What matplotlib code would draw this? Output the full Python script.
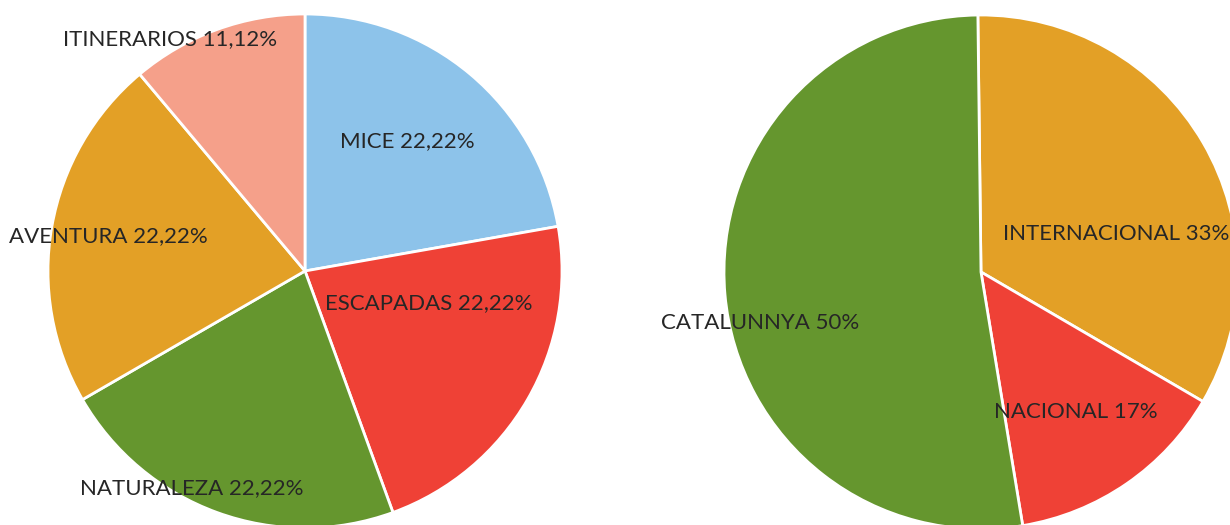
import matplotlib.pyplot as plt

# left pie: tipo de viaje
tipos = ["MICE", "ESCAPADAS", "NATURALEZA", "AVENTURA", "ITINERARIOS"]
tipos_pct = [22.22, 22.22, 22.22, 22.22, 11.12]
tipos_txt = ["22,22%", "22,22%", "22,22%", "22,22%", "11,12%"]
tipos_col = ["#8DC3EA", "#EF4136", "#65962E", "#E3A026", "#F5A08A"]

# right pie: origen (angles as drawn in the picture)
origen = ["INTERNACIONAL", "NACIONAL", "CATALUNNYA"]
origen_val = [33.6, 14.0, 52.4]
origen_txt = ["33%", "17%", "50%"]
origen_col = ["#E3A026", "#EF4136", "#65962E"]

# label anchor points (x center, baseline y from top), pixel coords
tipos_pos = [(407, 147), (429, 309), (192, 494), (108, 242), (170, 45)]
origen_pos = [(1116, 240), (1076, 418), (760, 329)]

H = 525
fig = plt.figure(figsize=(12.3, 5.25), dpi=100)
ax = fig.add_axes([0, 0, 1, 1])

ax.pie(tipos_pct, colors=tipos_col, startangle=90, counterclock=False,
       center=(305, H - 271), radius=257,
       wedgeprops=dict(edgecolor="white", linewidth=2), frame=True)
ax.pie(origen_val, colors=origen_col, startangle=90.7, counterclock=False,
       center=(981, H - 272), radius=257,
       wedgeprops=dict(edgecolor="white", linewidth=2), frame=True)
ax.set_xlim(0, 1230)
ax.set_ylim(0, H)
ax.set_aspect("equal")
ax.axis("off")

font = dict(family="Lato", fontsize=16, color="#262626",
            ha="center", va="baseline")
for name, t, (x, y) in zip(tipos, tipos_txt, tipos_pos):
    ax.text(x, H - y, name + " " + t, **font)
for name, t, (x, y) in zip(origen, origen_txt, origen_pos):
    ax.text(x, H - y, name + " " + t, **font)

fig.savefig("out.png", dpi=100)
